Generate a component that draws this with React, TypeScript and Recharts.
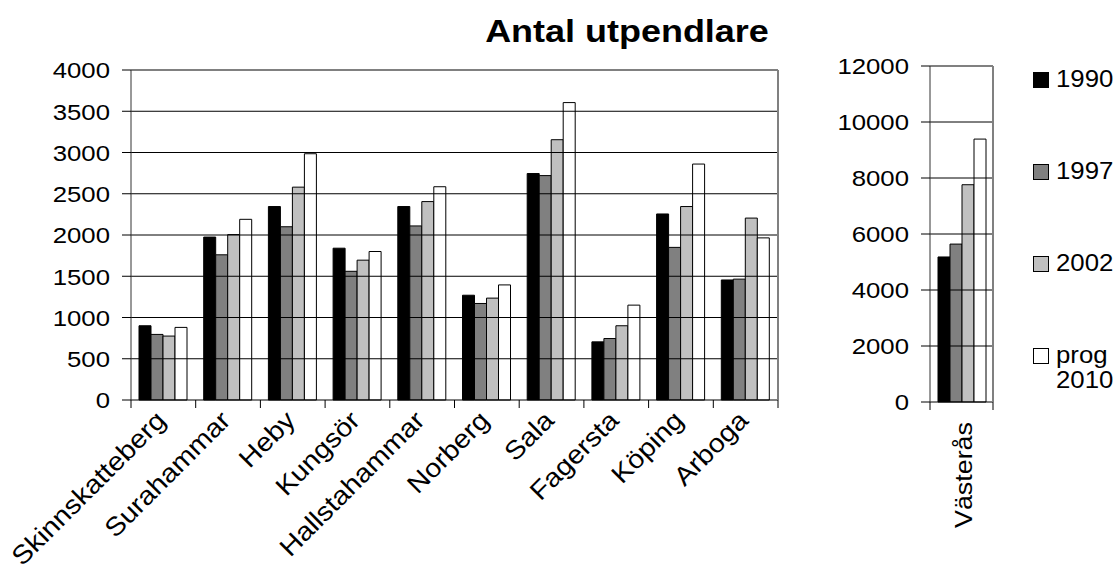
import React from 'react';
import { BarChart, Bar, XAxis, YAxis, ReferenceLine } from 'recharts';

const categories = ['Skinnskatteberg', 'Surahammar', 'Heby', 'Kungsör', 'Hallstahammar', 'Norberg', 'Sala', 'Fagersta', 'Köping', 'Arboga'];
const values1990 = [900, 1975, 2345, 1840, 2345, 1270, 2745, 705, 2255, 1455];
const values1997 = [795, 1760, 2100, 1560, 2110, 1170, 2720, 745, 1850, 1465];
const values2002 = [775, 2005, 2580, 1695, 2405, 1235, 3155, 900, 2345, 2205];
const values2010 = [880, 2190, 2985, 1800, 2585, 1395, 3605, 1150, 2860, 1965];

const bigCategories = ['Västerås'];
const big1990 = [5180];
const big1997 = [5640];
const big2002 = [7760];
const big2010 = [9390];

const leftTicks = [0, 500, 1000, 1500, 2000, 2500, 3000, 3500, 4000];
const rightTicks = [0, 2000, 4000, 6000, 8000, 10000, 12000];

const seriesKeys = ['y1990', 'y1997', 'y2002', 'y2010'];
const seriesNames = ['1990', '1997', '2002', 'prog 2010'];
const seriesColors = ['#000000', '#808080', '#c0c0c0', '#ffffff'];

const title = 'Antal utpendlare';

const FONT = '"Liberation Sans", Arial, sans-serif';
const SX = 1.12; // the picture is a bit wider than tall

const buildRows = (names: string[], cols: number[][]) =>
  names.map((name, i) => {
    const row: any = { name };
    seriesKeys.forEach((k, j) => { row[k] = cols[j][i]; });
    return row;
  });

const leftData = buildRows(categories, [values1990, values1997, values2002, values2010]);
const rightData = buildRows(bigCategories, [big1990, big1997, big2002, big2010]);

const YTick = ({ x, y, payload }: any) => (
  <g transform={`translate(${x},${y}) scale(${SX},1)`}>
    <text x={0} y={0} dy="0.36em" textAnchor="end" fontSize={23} fill="#000" fontFamily={FONT}>
      {payload.value}
    </text>
  </g>
);

const makeXTick = (angle: number, dx: number, dy: number, size: number, stretch: number) => (props: any) => {
  const { x, y, payload, index, width, visibleTicksCount } = props;
  const half = payload.offset || (width && visibleTicksCount ? width / visibleTicksCount / 2 : 32);
  return (
    <g>
      {index === 0 && <line x1={x - half} x2={x - half} y1={y} y2={y + 8} stroke="#000" />}
      <line x1={x + half} x2={x + half} y1={y} y2={y + 8} stroke="#000" />
      <g transform={`translate(${x + dx},${y + dy}) rotate(${angle}) scale(${stretch},1)`}>
        <text x={0} y={0} textAnchor="end" fontSize={size} fill="#000" fontFamily={FONT}>
          {payload.value}
        </text>
      </g>
    </g>
  );
};

const LeftXTick = makeXTick(-45, 4, 22, 26, 1.1);
const RightXTick = makeXTick(-90, 10, 20, 24, 1.12);

const renderBars = () =>
  seriesKeys.map((k, i) => (
    <Bar
      key={k}
      dataKey={k}
      name={seriesNames[i]}
      xAxisId="b"
      yAxisId="l"
      fill={seriesColors[i]}
      stroke="#000"
      strokeWidth={1}
      isAnimationActive={false}
    />
  ));

export default function App() {
  return (
    <div style={{ position: 'absolute', left: 0, top: 0, width: 1114, height: 574, background: '#fff', fontFamily: FONT, overflow: 'hidden' }}>
      <div
        style={{
          position: 'absolute',
          left: 627,
          top: 16,
          fontSize: 31,
          lineHeight: '31px',
          fontWeight: 'bold',
          whiteSpace: 'nowrap',
          transform: 'translateX(-50%) scaleX(1.16)',
        }}
      >
        {title}
      </div>

      <div style={{ position: 'absolute', left: 0, top: 0 }}>
        <BarChart width={800} height={574} data={leftData} margin={{ top: 69, right: 21, left: 0, bottom: 0 }} barCategoryGap={8} barGap={0}>
          <XAxis xAxisId="t" orientation="top" dataKey="name" height={1} tick={false} tickLine={false} axisLine={{ stroke: '#808080', strokeWidth: 2 }} />
          <XAxis xAxisId="b" dataKey="name" height={174} interval={0} tickSize={0} tickMargin={0} tickLine={false} axisLine={{ stroke: '#000' }} tick={<LeftXTick />} />
          <YAxis yAxisId="l" width={131} domain={[0, 4000]} ticks={leftTicks} interval={0} tickSize={9} tickMargin={12} tickLine={{ stroke: '#000' }} axisLine={{ stroke: '#333' }} tick={<YTick />} />
          <YAxis yAxisId="r" orientation="right" width={1} domain={[0, 4000]} tick={false} tickLine={false} axisLine={{ stroke: '#808080', strokeWidth: 2 }} />
          {leftTicks.slice(1, -1).map((v) => (
            <ReferenceLine key={v} y={v} xAxisId="b" yAxisId="l" stroke="#000" strokeWidth={1} />
          ))}
          {renderBars()}
        </BarChart>
      </div>

      <div style={{ position: 'absolute', left: 800, top: 0 }}>
        <BarChart width={216} height={574} data={rightData} margin={{ top: 65, right: 22, left: 0, bottom: 0 }} barCategoryGap={8} barGap={0}>
          <XAxis xAxisId="t" orientation="top" dataKey="name" height={1} tick={false} tickLine={false} axisLine={{ stroke: '#808080', strokeWidth: 2 }} />
          <XAxis xAxisId="b" dataKey="name" height={172} interval={0} tickSize={0} tickMargin={0} tickLine={false} axisLine={{ stroke: '#000' }} tick={<RightXTick />} />
          <YAxis yAxisId="l" width={130} domain={[0, 12000]} ticks={rightTicks} interval={0} tickSize={9} tickMargin={12} tickLine={{ stroke: '#000' }} axisLine={{ stroke: '#333' }} tick={<YTick />} />
          <YAxis yAxisId="r" orientation="right" width={1} domain={[0, 12000]} tick={false} tickLine={false} axisLine={{ stroke: '#808080', strokeWidth: 2 }} />
          {rightTicks.slice(1, -1).map((v) => (
            <ReferenceLine key={v} y={v} xAxisId="b" yAxisId="l" stroke="#000" strokeWidth={1} />
          ))}
          {renderBars()}
        </BarChart>
      </div>

      <div style={{ position: 'absolute', left: 1033, top: 67, display: 'flex', flexDirection: 'column', gap: 0 }}>
        {seriesNames.map((n, i) => {
          const words = n.split(' ');
          return (
            <div key={n} style={{ display: 'flex', alignItems: 'flex-start', height: 92 }}>
              <div style={{ width: 14, height: 14, marginTop: 5, background: seriesColors[i], border: '1px solid #000', flex: 'none' }} />
              <div style={{ marginLeft: 7, fontSize: 23, lineHeight: '25px', transform: `scaleX(${SX})`, transformOrigin: 'left center' }}>
                {words.map((w) => (
                  <div key={w}>{w}</div>
                ))}
              </div>
            </div>
          );
        })}
      </div>
    </div>
  );
}
